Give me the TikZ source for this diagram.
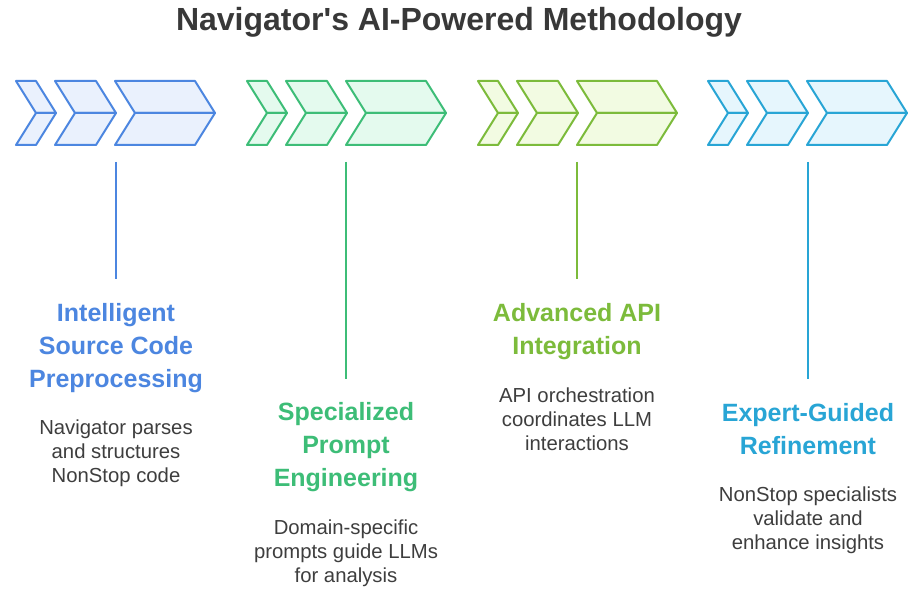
\documentclass[tikz,border=0pt]{standalone}
\usepackage{fontspec}
\setmainfont{Liberation Sans}
\definecolor{cblue}{HTML}{4C86E0}
\definecolor{fblue}{HTML}{EAF1FD}
\definecolor{cgreen}{HTML}{3DBD77}
\definecolor{fgreen}{HTML}{E4FAEE}
\definecolor{clime}{HTML}{7CBB3B}
\definecolor{flime}{HTML}{F2FBE2}
\definecolor{ccyan}{HTML}{28A5D5}
\definecolor{fcyan}{HTML}{E6F6FD}
\definecolor{titlec}{HTML}{383838}
\definecolor{bodyc}{HTML}{3E3E3E}
\newcommand{\chevpart}[4]{% left, width, stroke, fill
  \draw[chevline,draw=#3,fill=#4] (#1,81) -- ({#1+#2},81) -- ({#1+#2+20},113) -- ({#1+20},113) -- cycle;
  \draw[chevline,draw=#3,fill=#4] (#1,145) -- ({#1+#2},145) -- ({#1+#2+20},113) -- ({#1+20},113) -- cycle;}
\newcommand{\chevgroup}[3]{% x0, stroke, fill
  \chevpart{#1}{20}{#2}{#3}
  \chevpart{#1+39}{41}{#2}{#3}
  \chevpart{#1+99}{80}{#2}{#3}}
\begin{document}
\begin{tikzpicture}[x=1pt,y=-1pt,
  chevline/.style={line width=2pt,line join=round},
  stem/.style={line width=2.6pt},
  headtext/.style={anchor=north,align=center,inner sep=0pt,font=\fontsize{25}{33}\selectfont\bfseries},
  bodytext/.style={anchor=north,align=center,inner sep=0pt,text=bodyc,font=\fontsize{20.3}{24}\selectfont},
  titletext/.style={inner sep=0pt,text=titlec,font=\fontsize{32}{38}\selectfont\bfseries}]
\useasboundingbox[fill=white] (0,0) rectangle (914,591);
\node[titletext] (title) at (459,22) {Navigator\textquotesingle s AI-Powered Methodology};
\chevgroup{16}{cblue}{fblue}
\chevgroup{247}{cgreen}{fgreen}
\chevgroup{478}{clime}{flime}
\chevgroup{708}{ccyan}{fcyan}
% stems
\coordinate (s1) at (116,162);
\coordinate (s2) at (346,162);
\coordinate (s3) at (577,162);
\coordinate (s4) at (808,162);
\coordinate (e1) at (116,279);
\coordinate (e2) at (346,379);
\coordinate (e3) at (577,279);
\coordinate (e4) at (808,379);
\draw[stem,cblue] (s1) -- (e1);
\draw[stem,cgreen] (s2) -- (e2);
\draw[stem,clime] (s3) -- (e3);
\draw[stem,ccyan] (s4) -- (e4);
% headings
\node[headtext,text=cblue] (h1) at (116,303) {Intelligent\\Source Code\\Preprocessing};
\node[headtext,text=cgreen] (h2) at (346,402) {Specialized\\Prompt\\Engineering};
\node[headtext,text=clime] (h3) at (577,303) {Advanced API\\Integration};
\node[headtext,text=ccyan] (h4) at (808,403) {Expert-Guided\\Refinement};
% bodies
\node[bodytext] (b1) at (116,420) {Navigator parses\\and structures\\NonStop code};
\node[bodytext] (b2) at (346,520) {Domain-specific\\prompts guide LLMs\\for analysis};
\node[bodytext] (b3) at (577,388) {API orchestration\\coordinates LLM\\interactions};
\node[bodytext] (b4) at (808,487) {NonStop specialists\\validate and\\enhance insights};
\end{tikzpicture}
\end{document}
